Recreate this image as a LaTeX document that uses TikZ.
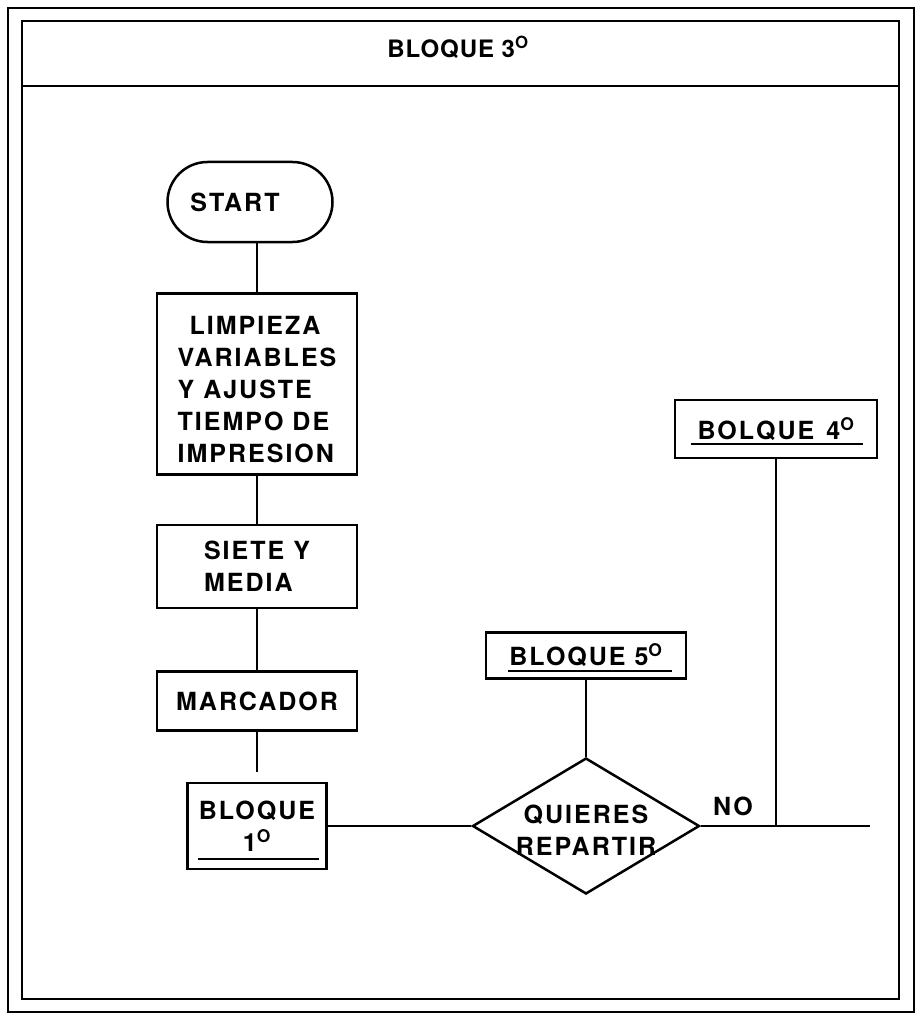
\documentclass[tikz,border=0pt]{standalone}
\usepackage{fontspec}
\newfontfamily\flowfont[LetterSpace=8]{TeX Gyre Heros}
\newfontfamily\headfont[LetterSpace=4]{TeX Gyre Heros}
\usetikzlibrary{positioning,shapes.geometric,shapes.misc}
\newcommand{\nro}{\textsuperscript{O}}

\begin{document}
\begin{tikzpicture}[x=1pt, y=-1pt,
  font=\flowfont\bfseries\fontsize{25}{32}\selectfont,
  box/.style={draw, line width=2.5pt, align=left, inner sep=0pt},
  terminal/.style={draw, line width=2.5pt, rounded rectangle,
                   minimum width=165pt, minimum height=80pt, inner sep=0pt},
  decision/.style={draw, line width=2.5pt, diamond,
                   minimum width=227pt, minimum height=136pt, inner sep=0pt},
  link/.style={line width=2pt},
  frame/.style={line width=1.8pt},
  uline/.style={line width=1.6pt}]
\useasboundingbox (0,0) rectangle (917,1016);
% page frame and heading
\draw[frame] (8,8) rectangle (914,1012);
\draw[frame] (22,21) rectangle (899,999);
\draw[frame] (22,86) -- (899,86);
\node[font=\headfont\bfseries\fontsize{24}{28}\selectfont] (head) at (458,47) {BLOQUE 3\nro};
% main column
\node[terminal] (start) at (250,202) {START\hspace*{30pt}};
\node[box, minimum width=200pt, minimum height=181pt] (limp) at (257,384)
  {\hspace*{12pt}\rule{0pt}{30pt}LIMPIEZA\\VARIABLES\\Y AJUSTE\\TIEMPO DE\\IMPRESION};
\node[box, minimum width=200pt, minimum height=83pt, below=48pt of limp] (siete) {SIETE Y\\MEDIA};
\node[box, minimum width=200pt, minimum height=59pt, below=61pt of siete] (marc) {MARCADOR};
\node[box, align=center, minimum width=139pt, minimum height=86pt] (bloq1) at (257,826) {BLOQUE\\1\nro};
% decision and branches
\node[decision] (rep) at (586,826) {};
\node[align=center] (reptext) at ([yshift=-4pt]rep.center) {QUIERES\\REPARTIR};
\node[box, minimum width=200pt, minimum height=46pt, above=77pt of rep] (bloq5) {BLOQUE 5\nro};
\node[box, minimum width=202pt, minimum height=58pt] (bloq4) at (776,429) {BOLQUE\hspace{12pt}4\nro};
\node (no) at (733,806) {NO};
% underlines
\draw[uline] ([xshift=12pt,yshift=11pt]bloq1.south west) -- ([xshift=-9pt,yshift=11pt]bloq1.south east);
\draw[uline] ([xshift=23pt,yshift=9pt]bloq5.south west) -- ([xshift=-15pt,yshift=9pt]bloq5.south east);
\draw[uline] ([xshift=17pt,yshift=15pt]bloq4.south west) -- ([xshift=-15pt,yshift=15pt]bloq4.south east);
% connectors
\coordinate (tail) at (870,826);
\coordinate (tee) at (bloq4.south |- rep.east);
\draw[link] (start.south -| limp.north) -- (limp.north);
\draw[link] (limp) -- (siete);
\draw[link] (siete) -- (marc);
\draw[link] (marc) -- ([yshift=10pt]bloq1.north);
\draw[link] (bloq1.east) -- (rep.west);
\draw[link] (rep) -- (bloq5);
\draw[link] (rep.east) -- (tail);
\draw[link] (bloq4) -- (tee);
\end{tikzpicture}
\end{document}
